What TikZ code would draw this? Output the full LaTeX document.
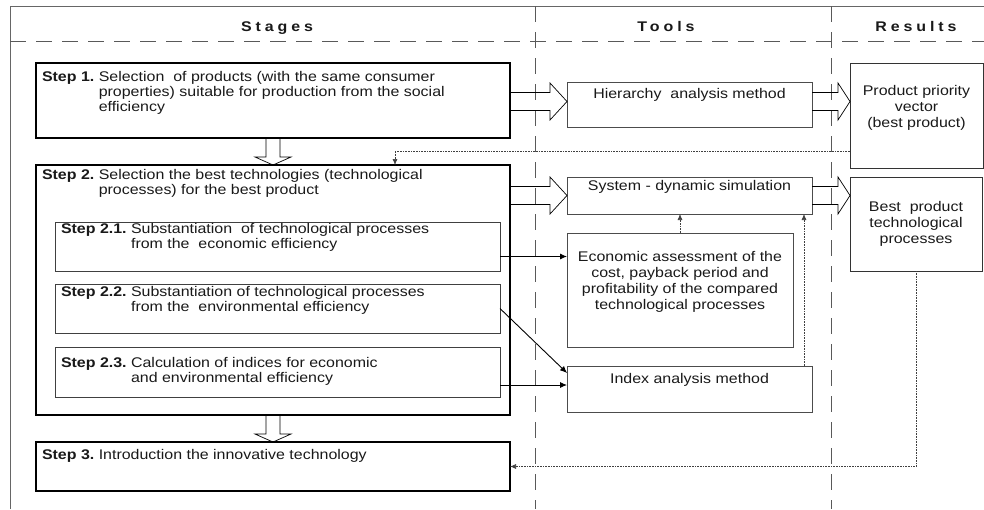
\documentclass[tikz,border=0pt]{standalone}
\usepackage{fontspec}
\setmainfont{Liberation Sans}[FakeStretch=1.14]
\newfontfamily\headfont{Liberation Sans}[FakeStretch=1.14, LetterSpace=28]
\usetikzlibrary{calc, arrows.meta}

% fixed size box, text hung from the top
\newcommand{\inbox}[4]{\parbox[c][#2pt][t]{#1pt}{\vspace*{#3pt}#4}}
\newcommand{\steplines}[2]{\hspace*{6pt}\begin{tabular}[t]{@{}l@{\ }l@{}}\textbf{#1} & #2\end{tabular}}
\newcommand{\midlines}[1]{{\centering\fontsize{14}{16}\selectfont\strut #1\par}}

\tikzset{
  every node/.style={font=\fontsize{14}{15}\selectfont, text=black!90,
    inner sep=0pt, outer sep=0pt, anchor=north west},
  stepbox/.style={draw, line width=1.3pt},
  subbox/.style={draw=black!75, line width=0.8pt},
  toolbox/.style={draw=black!70, line width=0.8pt},
  resbox/.style={draw=black!80, line width=0.8pt},
  frame/.style={draw=black!60, line width=0.8pt},
  lane/.style={draw=black!65, line width=0.8pt, dash pattern=on 16pt off 10pt},
  head/.style={font=\headfont\bfseries\fontsize{14}{15}\selectfont, anchor=base},
  fatright/.style={line width=0.7pt, to path={($(\tikztostart)+(0,-9)$) -- ($(\tikztotarget)+(-#1,-9)$)
    -- ($(\tikztotarget)+(-#1,-18.5)$) -- (\tikztotarget) -- ($(\tikztotarget)+(-#1,18.5)$)
    -- ($(\tikztotarget)+(-#1,9)$) -- ($(\tikztostart)+(0,9)$)}},
  fatdown/.style={line width=0.7pt, to path={($(\tikztostart)+(-7,0)$) -- ($(\tikztotarget)+(-7,-8)$)
    -- ($(\tikztotarget)+(-18,-8)$) -- (\tikztotarget) -- ($(\tikztotarget)+(18,-8)$)
    -- ($(\tikztotarget)+(7,-8)$) -- ($(\tikztostart)+(7,0)$)}},
  flow/.style={line width=0.9pt, -{Latex[length=7pt,width=6pt]}},
  back/.style={densely dotted, line width=0.6pt, draw=black!75, -{Latex[length=6pt,width=5pt]}},
}

\begin{document}
\begin{tikzpicture}[x=1pt, y=-1pt]
  \useasboundingbox (0,0) rectangle (984,509);
  %%%%%%%%%%%%%
  \draw[frame] (10,509) -- (10,6) -- (984,6);
  \draw[lane] (10,41) -- (984,41);
  \draw[lane] (535,6) -- (535,509);
  \draw[lane] (831,6) -- (831,509);
  \node[head] (stages) at (277,31) {Stages};
  \node[head] (tools) at (666,31) {Tools};
  \node[head] (results) at (916,31) {Results};
  %%%%%%%%%%%%%
  \node[stepbox] (step1) at (36,63) {\inbox{474}{75}{7.5}{\steplines{Step 1.}{Selection~ of products (with the same consumer\\ & properties) suitable for production from the social\\ & efficiency}}};
  \node[stepbox] (step2) at (36,165) {\inbox{474}{250}{4}{\steplines{Step 2.}{Selection the best technologies (technological\\ & processes) for the best product}}};
  \node[subbox] (step21) at (55,222) {\inbox{445}{49}{1}{\steplines{Step 2.1.}{Substantiation~ of technological processes\\ & from the~ economic efficiency}}};
  \node[subbox] (step22) at (55,284) {\inbox{445}{49}{2}{\steplines{Step 2.2.}{Substantiation of technological processes\\ & from the~ environmental efficiency}}};
  \node[subbox] (step23) at (55,347) {\inbox{445}{50}{10}{\steplines{Step 2.3.}{Calculation of indices for economic\\ & and environmental efficiency}}};
  \node[stepbox] (step3) at (36,442) {\inbox{474}{49}{7}{\steplines{Step 3.}{Introduction the innovative technology}}};
  %%%%%%%%%%%%%
  \node[toolbox] (hier) at (567,82) {\inbox{245}{45}{5}{\midlines{Hierarchy~ analysis method}}};
  \node[toolbox] (sds) at (567,177) {\inbox{245}{37}{2}{\midlines{System - dynamic simulation}}};
  \node[toolbox] (econ) at (567,233) {\inbox{226}{114}{17}{\midlines{Economic assessment of the\\ cost, payback period and\\ profitability of the compared\\ technological processes}}};
  \node[toolbox] (index) at (567,366) {\inbox{245}{46}{6}{\midlines{Index analysis method}}};
  \node[resbox] (res1) at (850,63) {\inbox{133}{105}{21}{\midlines{Product priority\\ vector\\ (best product)}}};
  \node[resbox] (res2) at (850,177) {\inbox{132}{94}{23}{\midlines{Best~ product\\ technological\\ processes}}};
  %%%%%%%%%%%%%
  \coordinate (a1) at ([yshift=3pt]hier.west);
  \coordinate (a2) at ([yshift=3pt]hier.east);
  \draw[fatright=17] (step1.east |- a1) to (a1);
  \draw[fatright=12] (a2) to (res1.west |- a2);
  \draw[fatright=17] (step2.east |- sds.west) to (sds.west);
  \draw[fatright=12] (sds.east) to (res2.west |- sds.east);
  \draw[fatdown] (step1.south) to (step2.north);
  \draw[fatdown] (step2.south) to (step3.north);
  %%%%%%%%%%%%%
  \coordinate (e1) at ([yshift=-10pt]step21.east);
  \coordinate (e3) at ([yshift=-13pt]step23.east);
  \draw[flow] (e1) -- (e1 -| econ.west);
  \draw[flow] (step22.east) -- ([yshift=-7pt]index.north west);
  \draw[flow] (e3) -- (e3 -| index.west);
  %%%%%%%%%%%%%
  \coordinate (fb) at (395,151);
  \coordinate (ix) at ([xshift=-8pt]index.north east);
  \draw[back] (res1.west |- fb) -| (fb |- step2.north);
  \draw[back] (econ.north) -- (econ.north |- sds.south);
  \draw[back] (ix) -- (ix |- sds.south);
  \draw[back] (res2.south) |- (step3.east);
\end{tikzpicture}
\end{document}
